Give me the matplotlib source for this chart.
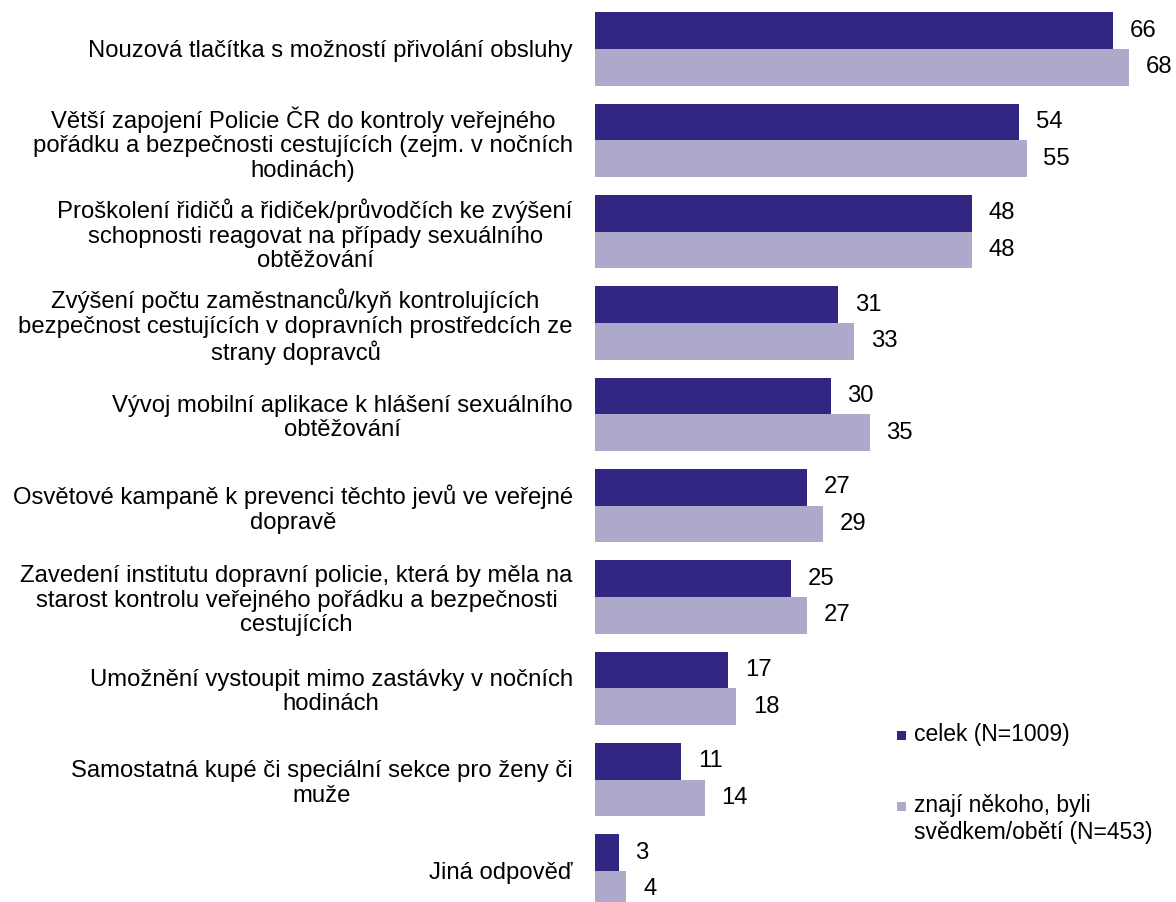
import matplotlib
matplotlib.use("Agg")
import matplotlib.pyplot as plt
from matplotlib.patches import Rectangle
import numpy as np

plt.rcParams['font.family'] = ['Liberation Sans', 'DejaVu Sans']

categories = [
    "Nouzová tlačítka s možností přivolání obsluhy",
    "Větší zapojení Policie ČR do kontroly veřejného\npořádku a bezpečnosti cestujících (zejm. v nočních\nhodinách)",
    "Proškolení řidičů a řidiček/průvodčích ke zvýšení\nschopnosti reagovat na případy sexuálního\nobtěžování",
    "Zvýšení počtu zaměstnanců/kyň kontrolujících\nbezpečnost cestujících v dopravních prostředcích ze\nstrany dopravců",
    "Vývoj mobilní aplikace k hlášení sexuálního\nobtěžování",
    "Osvětové kampaně k prevenci těchto jevů ve veřejné\ndopravě",
    "Zavedení institutu dopravní policie, která by měla na\nstarost kontrolu veřejného pořádku a bezpečnosti\ncestujících",
    "Umožnění vystoupit mimo zastávky v nočních\nhodinách",
    "Samostatná kupé či speciální sekce pro ženy či\nmuže",
    "Jiná odpověď",
]
celek = [66, 54, 48, 31, 30, 27, 25, 17, 11, 3]
znaji = [68, 55, 48, 33, 35, 29, 27, 18, 14, 4]
series_labels = ["celek (N=1009)", "znají někoho, byli\nsvědkem/obětí (N=453)"]

c_dark = "#312783"
c_light = "#ACA9CB"
fs = 17.2
fs_leg = 16.5

W, H = 1176, 902
fig = plt.figure(figsize=(W / 100, H / 100), dpi=100)
ax = fig.add_axes([595 / W, 0, 1 - 595 / W, 1])

y = np.arange(len(categories))
h = 0.4
ax.barh(y - h / 2, celek, height=h, color=c_dark)
ax.barh(y + h / 2, znaji, height=h, color=c_light)

for yi, v in zip(y, celek):
    ax.annotate(str(v), (v, yi - h / 2), xytext=(12, 0), textcoords="offset points",
                va="center", ha="left", fontsize=fs)
for yi, v in zip(y, znaji):
    ax.annotate(str(v), (v, yi + h / 2), xytext=(12, 0), textcoords="offset points",
                va="center", ha="left", fontsize=fs)

ax.set_xlim(0, 581 / 7.85)
ax.set_ylim((902 - 49) / 91.33, -49 / 91.33)
ax.set_yticks(y)
ax.set_yticklabels(categories, fontsize=fs, linespacing=1.15)
for t in ax.get_yticklabels():
    t.set_multialignment("center")
ax.tick_params(axis="y", length=0, pad=16)
ax.set_xticks([])
for s in ax.spines.values():
    s.set_visible(False)

# manual legend (markers aligned with first text line, as in the reference)
leg_y = [735, 806]
for (ly, lab, col) in zip(leg_y, series_labels, [c_dark, c_light]):
    fig.patches.append(Rectangle((897 / W, 1 - (ly + 5) / H), 9 / W, 9 / H,
                                 transform=fig.transFigure, facecolor=col,
                                 edgecolor="none"))
    fig.text(914 / W, 1 - (ly - 12) / H, lab, fontsize=fs_leg, va="top", ha="left",
             linespacing=1.25)

fig.savefig("out.png", dpi=100)
